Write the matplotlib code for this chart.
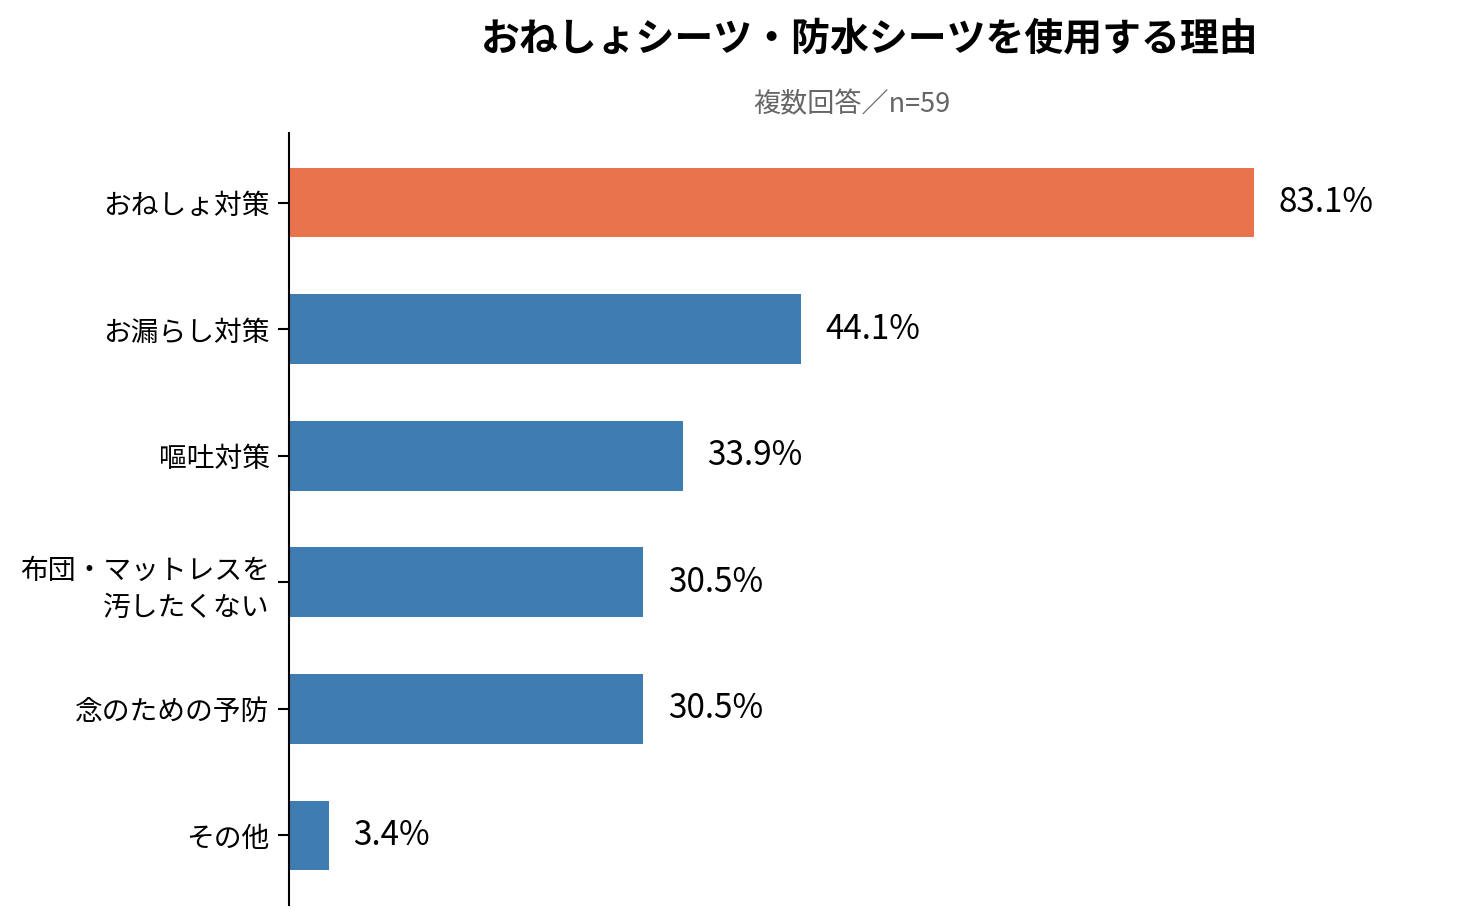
import numpy as np
import matplotlib.pyplot as plt

plt.rcParams['font.family'] = ['Noto Sans CJK JP', 'DejaVu Sans']

# data
categories = ['おねしょ対策', 'お漏らし対策', '嘔吐対策',
              '布団・マットレスを\n汚したくない', '念のための予防', 'その他']
values = [83.1, 44.1, 33.9, 30.5, 30.5, 3.4]
title = 'おねしょシーツ・防水シーツを使用する理由'
subtitle = '複数回答／n=59'

colors = ['#E8734C'] + ['#3E7CB1'] * (len(values) - 1)

fig = plt.figure(figsize=(14.71, 9.24), dpi=100)
ax = fig.add_axes([0.1965, 0.0206, 0.7895, 0.8354])

y = np.arange(len(categories))
ax.barh(y, values, height=0.55, color=colors)
ax.set_xlim(0, 100)
ax.set_ylim(5.55, -0.55)
ax.set_yticks(y)
ax.set_yticklabels(categories, fontsize=20, linespacing=1.3)
ax.set_xticks([])

for s in ['top', 'right', 'bottom']:
    ax.spines[s].set_visible(False)
ax.spines['left'].set_linewidth(1.5)
ax.tick_params(axis='y', length=8, width=1.5, pad=6)

for yi, v in zip(y, values):
    ax.text(v + 2.1, yi, f'{v}%', va='center', ha='left', fontsize=24)

fig.text(0.5915, 0.958, title, ha='center', va='center',
         fontsize=28, fontweight='bold')
fig.text(0.579, 0.887, subtitle, ha='center', va='center',
         fontsize=19.5, color='#666666')

fig.savefig('out.png', dpi=100)
